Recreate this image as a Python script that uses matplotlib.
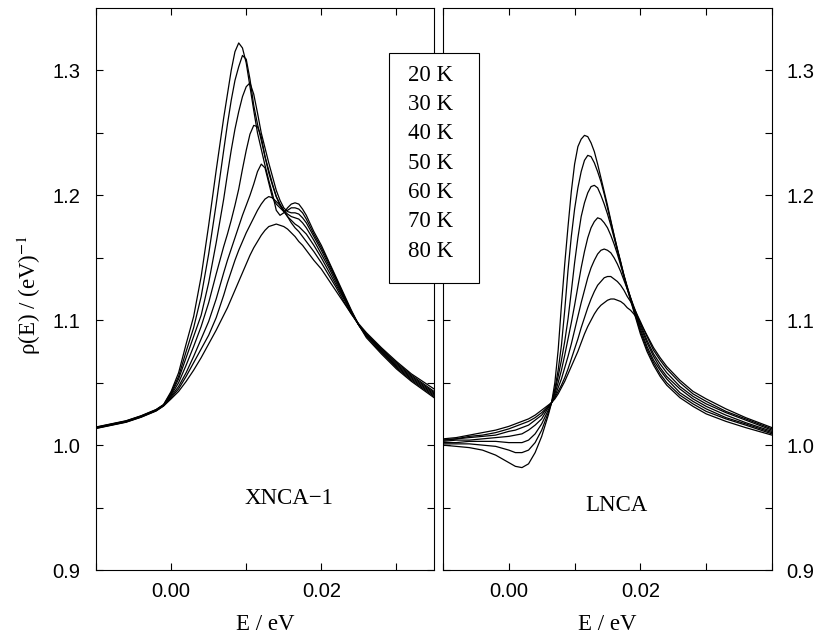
import matplotlib as mpl
mpl.use('Agg')
import matplotlib.pyplot as plt  # noqa
from matplotlib.patches import Rectangle
from matplotlib.ticker import FixedLocator, FormatStrFormatter

plt.rcParams['font.family'] = ['Liberation Serif', 'DejaVu Serif']
plt.rcParams['mathtext.fontset'] = 'stix'

temps = ['20 K', '30 K', '40 K', '50 K', '60 K', '70 K', '80 K']

# XNCA-1 panel, values
e_xnca = [-0.010, -0.008, -0.006, -0.004, -0.002, -0.001,
          0.000, 0.001, 0.002, 0.003, 0.004, 0.005, 0.006, 0.007,
          0.0075, 0.008, 0.0085, 0.009, 0.0095, 0.010, 0.0105, 0.011,
          0.0115, 0.012, 0.0125, 0.013, 0.0135, 0.014, 0.0145, 0.015,
          0.0155, 0.016, 0.0165, 0.017, 0.0175, 0.018,
          0.019, 0.020, 0.021, 0.022, 0.023, 0.024, 0.025, 0.026,
          0.028, 0.030, 0.032, 0.035]
xnca_20 = [1.0145, 1.0170, 1.0195, 1.0235, 1.0285, 1.0325,
           1.043, 1.058, 1.081, 1.103, 1.135, 1.176, 1.220, 1.262,
           1.281, 1.300, 1.315, 1.322, 1.318, 1.306, 1.287, 1.268,
           1.250, 1.237, 1.224, 1.212, 1.201, 1.188, 1.184, 1.186,
           1.190, 1.193, 1.194, 1.193, 1.189, 1.184,
           1.171, 1.160, 1.147, 1.134, 1.121, 1.108, 1.096, 1.086,
           1.073, 1.061, 1.051, 1.038]
xnca_30 = [1.0143, 1.0168, 1.0193, 1.0233, 1.0283, 1.0323,
           1.042, 1.055, 1.075, 1.094, 1.119, 1.153, 1.193, 1.236,
           1.257, 1.276, 1.292, 1.303, 1.312, 1.309, 1.293, 1.272,
           1.257, 1.244, 1.231, 1.218, 1.208, 1.199, 1.192, 1.187,
           1.188, 1.190, 1.190, 1.189, 1.186, 1.181,
           1.169, 1.158, 1.146, 1.133, 1.120, 1.107, 1.096, 1.087,
           1.074, 1.062, 1.052, 1.039]
xnca_40 = [1.0141, 1.0166, 1.0191, 1.0231, 1.0281, 1.0321,
           1.041, 1.053, 1.070, 1.087, 1.104, 1.130, 1.162, 1.197,
           1.217, 1.236, 1.253, 1.267, 1.279, 1.287, 1.290, 1.281,
           1.266, 1.250, 1.238, 1.226, 1.215, 1.204, 1.196, 1.190,
           1.187, 1.186, 1.186, 1.185, 1.182, 1.178,
           1.167, 1.156, 1.144, 1.132, 1.119, 1.107, 1.096, 1.088,
           1.075, 1.063, 1.053, 1.040]
xnca_50 = [1.0139, 1.0164, 1.0189, 1.0229, 1.0279, 1.0319,
           1.040, 1.050, 1.064, 1.079, 1.095, 1.114, 1.137, 1.159,
           1.169, 1.180, 1.192, 1.205, 1.221, 1.236, 1.249, 1.256,
           1.255, 1.247, 1.231, 1.220, 1.209, 1.199, 1.193, 1.188,
           1.185, 1.183, 1.182, 1.181, 1.178, 1.174,
           1.164, 1.153, 1.142, 1.130, 1.118, 1.106, 1.096, 1.088,
           1.076, 1.064, 1.054, 1.041]
xnca_60 = [1.0137, 1.0162, 1.0187, 1.0227, 1.0277, 1.0317,
           1.039, 1.047, 1.058, 1.071, 1.085, 1.099, 1.117, 1.138,
           1.148, 1.157, 1.166, 1.175, 1.184, 1.192, 1.200, 1.209,
           1.219, 1.225, 1.222, 1.210, 1.198, 1.193, 1.190, 1.187,
           1.183, 1.180, 1.177, 1.175, 1.172, 1.169,
           1.160, 1.150, 1.139, 1.128, 1.117, 1.106, 1.096, 1.089,
           1.077, 1.065, 1.055, 1.042]
xnca_70 = [1.0135, 1.0160, 1.0185, 1.0225, 1.0275, 1.0315,
           1.038, 1.045, 1.055, 1.066, 1.077, 1.088, 1.102, 1.120,
           1.130, 1.139, 1.148, 1.156, 1.163, 1.170, 1.176, 1.182,
           1.188, 1.193, 1.197, 1.199, 1.198, 1.195, 1.192, 1.188,
           1.183, 1.178, 1.174, 1.171, 1.167, 1.163,
           1.155, 1.146, 1.136, 1.126, 1.115, 1.105, 1.096, 1.089,
           1.077, 1.066, 1.056, 1.043]
xnca_80 = [1.0133, 1.0158, 1.0183, 1.0223, 1.0273, 1.0313,
           1.037, 1.043, 1.051, 1.060, 1.070, 1.081, 1.092, 1.104,
           1.110, 1.117, 1.124, 1.131, 1.138, 1.145, 1.152, 1.158,
           1.163, 1.168, 1.172, 1.175, 1.176, 1.177, 1.176, 1.175,
           1.173, 1.170, 1.167, 1.163, 1.160, 1.156,
           1.148, 1.141, 1.132, 1.123, 1.114, 1.105, 1.097, 1.090,
           1.078, 1.067, 1.057, 1.045]

# LNCA panel
e_lnca = [-0.010, -0.008, -0.006, -0.004, -0.002, 0.000, 0.001, 0.002,
          0.003, 0.004, 0.005, 0.006,
          0.0065, 0.007, 0.0075, 0.008, 0.0085, 0.009, 0.0095, 0.010,
          0.0105, 0.011, 0.0115, 0.012, 0.0125, 0.013, 0.0135, 0.014,
          0.0145, 0.015, 0.0155, 0.016, 0.0165, 0.017, 0.0175, 0.018,
          0.0185, 0.019,
          0.020, 0.021, 0.022, 0.023, 0.024, 0.026, 0.028, 0.030,
          0.033, 0.036, 0.040]
lnca_20 = [1.000, 0.999, 0.998, 0.996, 0.992, 0.986, 0.983, 0.982,
           0.985, 0.994, 1.007, 1.024,
           1.034, 1.050, 1.076, 1.112, 1.145, 1.175, 1.203, 1.225,
           1.239, 1.245, 1.248, 1.247, 1.242, 1.235, 1.225, 1.214,
           1.203, 1.192, 1.180, 1.168, 1.157, 1.146, 1.135, 1.125,
           1.116, 1.107,
           1.089, 1.075, 1.064, 1.055, 1.048, 1.038, 1.031, 1.025,
           1.019, 1.014, 1.008]
lnca_30 = [1.001, 1.001, 1.001, 1.000, 0.999, 0.996, 0.994, 0.994,
           0.996, 1.002, 1.012, 1.026,
           1.034, 1.045, 1.060, 1.080, 1.108, 1.140, 1.167, 1.189,
           1.206, 1.219, 1.228, 1.232, 1.231, 1.226, 1.219, 1.211,
           1.201, 1.190, 1.179, 1.168, 1.157, 1.147, 1.136, 1.126,
           1.117, 1.108,
           1.091, 1.077, 1.066, 1.057, 1.050, 1.040, 1.033, 1.027,
           1.021, 1.016, 1.009]
lnca_40 = [1.002, 1.002, 1.003, 1.003, 1.003, 1.002, 1.002, 1.002,
           1.004, 1.009, 1.017, 1.028,
           1.034, 1.043, 1.055, 1.068, 1.083, 1.101, 1.123, 1.146,
           1.166, 1.183, 1.194, 1.202, 1.207, 1.208, 1.206, 1.200,
           1.193, 1.185, 1.176, 1.166, 1.156, 1.146, 1.136, 1.127,
           1.118, 1.109,
           1.093, 1.079, 1.068, 1.060, 1.053, 1.042, 1.035, 1.029,
           1.022, 1.017, 1.010]
lnca_50 = [1.003, 1.004, 1.004, 1.005, 1.006, 1.007, 1.008, 1.009,
           1.012, 1.016, 1.021, 1.030,
           1.034, 1.041, 1.050, 1.060, 1.072, 1.085, 1.098, 1.112,
           1.127, 1.142, 1.155, 1.166, 1.174, 1.179, 1.182, 1.181,
           1.178, 1.174, 1.168, 1.161, 1.153, 1.144, 1.135, 1.126,
           1.118, 1.110,
           1.095, 1.082, 1.071, 1.062, 1.055, 1.045, 1.037, 1.031,
           1.024, 1.018, 1.011]
lnca_60 = [1.004, 1.005, 1.006, 1.007, 1.008, 1.011, 1.012, 1.014,
           1.016, 1.020, 1.024, 1.031,
           1.034, 1.039, 1.046, 1.053, 1.062, 1.071, 1.081, 1.092,
           1.103, 1.114, 1.124, 1.134, 1.142, 1.148, 1.153, 1.156,
           1.157, 1.156, 1.154, 1.150, 1.145, 1.139, 1.132, 1.125,
           1.118, 1.111,
           1.097, 1.084, 1.073, 1.065, 1.058, 1.047, 1.039, 1.033,
           1.026, 1.020, 1.012]
lnca_70 = [1.004, 1.005, 1.007, 1.008, 1.010, 1.013, 1.015, 1.017,
           1.019, 1.022, 1.026, 1.031,
           1.034, 1.038, 1.043, 1.048, 1.054, 1.061, 1.069, 1.077,
           1.085, 1.094, 1.102, 1.110, 1.117, 1.123, 1.128, 1.131,
           1.134, 1.135, 1.135, 1.133, 1.131, 1.128, 1.124, 1.119,
           1.115, 1.110,
           1.099, 1.087, 1.076, 1.068, 1.061, 1.050, 1.041, 1.035,
           1.027, 1.021, 1.013]
lnca_80 = [1.005, 1.006, 1.008, 1.010, 1.012, 1.015, 1.017, 1.019,
           1.021, 1.024, 1.028, 1.032,
           1.034, 1.037, 1.041, 1.046, 1.051, 1.057, 1.063, 1.069,
           1.075, 1.082, 1.089, 1.095, 1.100, 1.105, 1.109, 1.112,
           1.114, 1.116, 1.117, 1.117, 1.116, 1.115, 1.113, 1.110,
           1.108, 1.105,
           1.098, 1.088, 1.078, 1.070, 1.063, 1.052, 1.043, 1.037,
           1.029, 1.022, 1.014]

xnca = [xnca_20, xnca_30, xnca_40, xnca_50, xnca_60, xnca_70, xnca_80]
lnca = [lnca_20, lnca_30, lnca_40, lnca_50, lnca_60, lnca_70, lnca_80]


def style(ax, xmax, left):
    ax.set_xlim(-0.01, xmax)
    ax.set_ylim(0.9, 1.35)
    ax.xaxis.set_major_locator(FixedLocator([0.0, 0.02]))
    ax.xaxis.set_minor_locator(FixedLocator([-0.01, 0.01, 0.03, 0.04]))
    ax.xaxis.set_major_formatter(FormatStrFormatter('%.2f'))
    ax.yaxis.set_major_locator(FixedLocator([0.9, 1.0, 1.1, 1.2, 1.3]))
    ax.yaxis.set_minor_locator(FixedLocator([0.95, 1.05, 1.15, 1.25]))
    ax.yaxis.set_major_formatter(FormatStrFormatter('%.1f'))
    ax.tick_params(which='both', direction='in', top=True, right=True,
                   length=4.8, width=0.8, labelsize=14.5,
                   labelfontfamily='Liberation Sans')
    ax.tick_params(axis='x', pad=8.5)
    ax.tick_params(axis='y', pad=11 if left else 10.5,
                   labelleft=left, labelright=not left)
    for sp in ax.spines.values():
        sp.set_linewidth(0.8)
    ax.set_xlabel('E / eV', fontsize=16.5)
    ax.xaxis.set_label_coords(0.5, -0.078)


fig = plt.figure(figsize=(8.2, 6.38), dpi=100)
ax1 = fig.add_axes([96 / 820, 68 / 638, 338 / 820, 562 / 638])
ax2 = fig.add_axes([443 / 820, 68 / 638, 329 / 820, 562 / 638])

for vals in xnca:
    ax1.plot(e_xnca, vals, color='black', lw=0.9)
for vals in lnca:
    ax2.plot(e_lnca, vals, color='black', lw=0.9)

style(ax1, 0.035, True)
style(ax2, 0.04, False)

ax1.set_ylabel(r'ρ(E) / (eV)$^{-1}$', fontsize=16.5)
ax1.yaxis.set_label_coords(-0.157, 0.49)

ax1.text(0.01573, 0.9526, 'XNCA\u22121', fontsize=16.5,
         ha='center', va='baseline')
ax2.text(0.01631, 0.9472, 'LNCA', fontsize=16.5, ha='center', va='baseline')

# temperature box sitting across both panels
fig.add_artist(Rectangle((389 / 820, 1 - 283 / 638), 90 / 820, 230 / 638,
                         transform=fig.transFigure, facecolor='white',
                         edgecolor='black', lw=0.8, zorder=10))
for i, t in enumerate(temps):
    fig.text(431 / 820, 1 - (80.7 + i * 29.33) / 638, t, fontsize=16.5,
             ha='center', va='baseline', zorder=11)

fig.savefig('out.png', dpi=100)
